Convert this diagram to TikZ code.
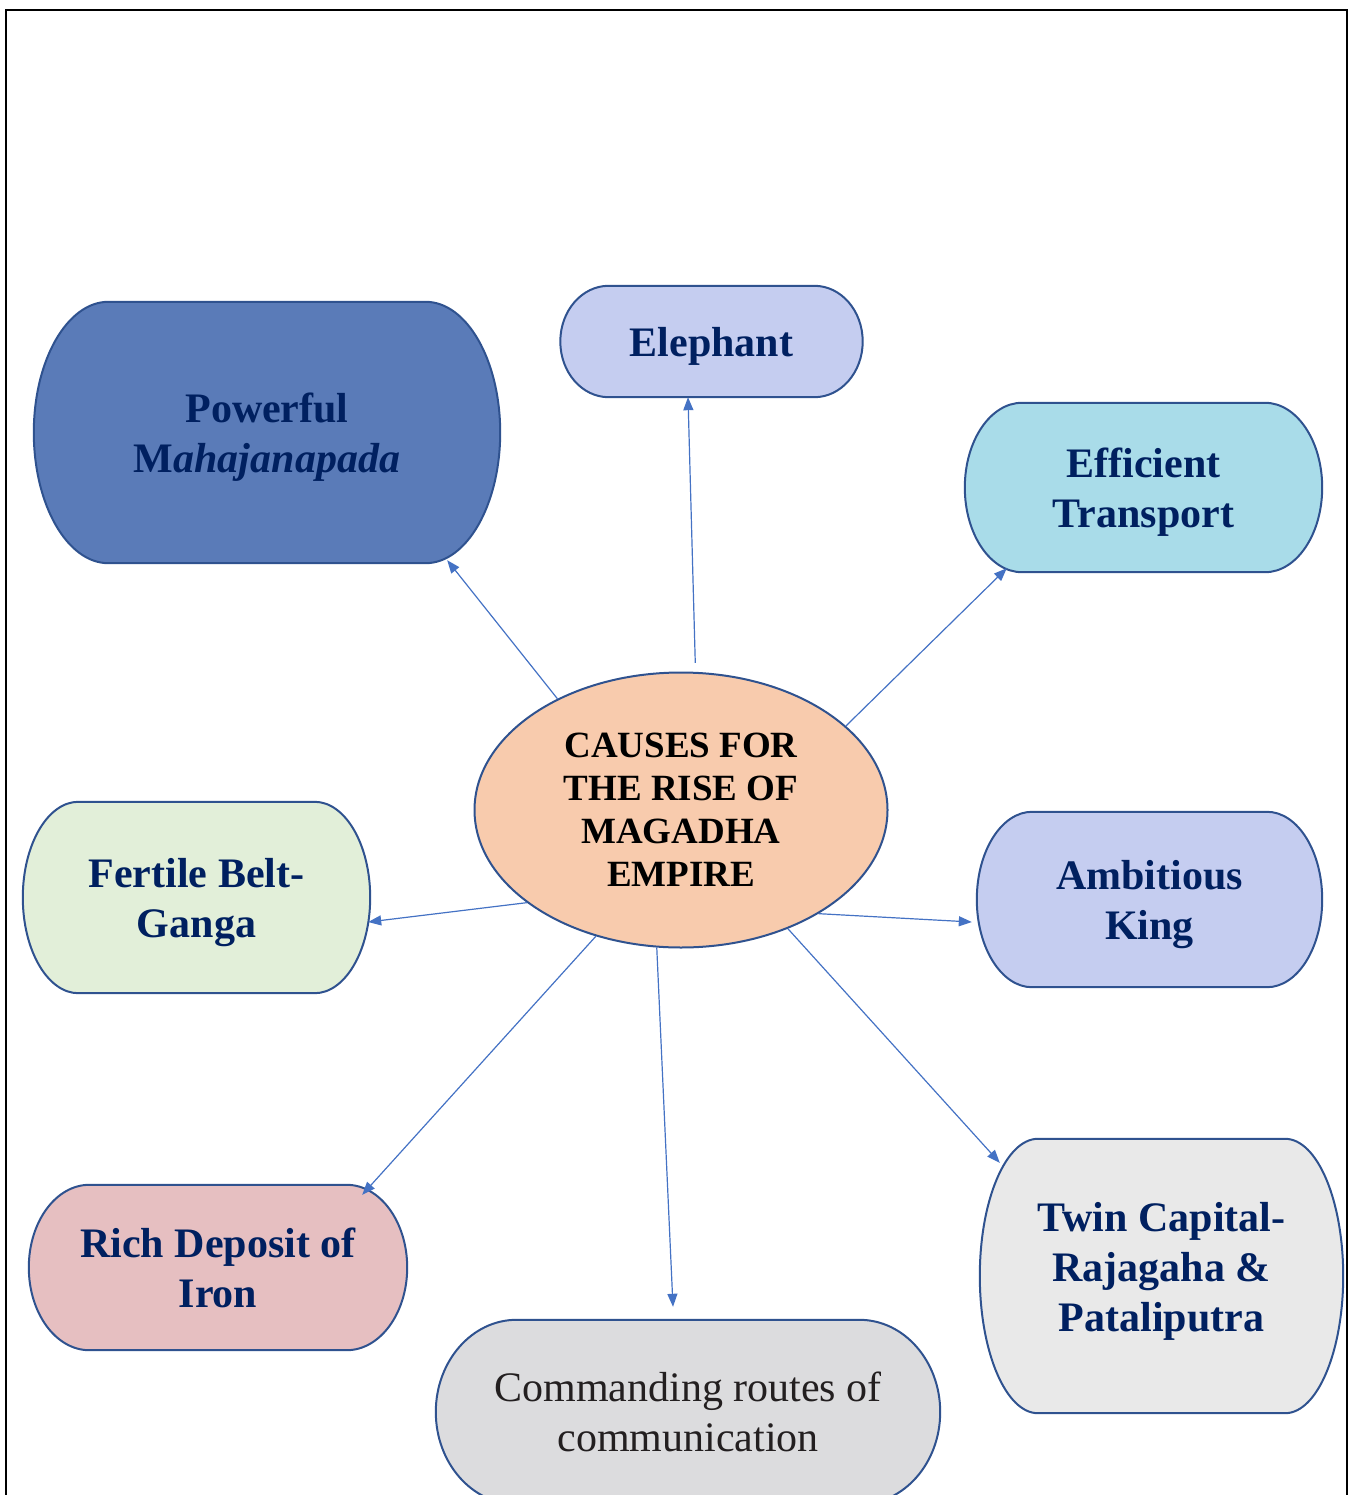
\documentclass[tikz,border=0pt]{standalone}
\usepackage{fontspec}
\setmainfont{Liberation Serif}
\usetikzlibrary{shapes.geometric, arrows.meta, calc, backgrounds}
\definecolor{navytext}{HTML}{002060}
\definecolor{shapeline}{HTML}{2F528F}
\definecolor{arrowblue}{HTML}{4472C4}
\definecolor{hubfill}{HTML}{F8CBAD}
\definecolor{denim}{HTML}{5A7BB8}
\definecolor{bouquet}{HTML}{C5CDF0}
\definecolor{droplets}{HTML}{A9DCE9}
\definecolor{fertile}{HTML}{E2EFD9}
\definecolor{rosemarble}{HTML}{E6BFC1}
\definecolor{marble}{HTML}{DCDCDE}
\definecolor{granite}{HTML}{E9E9E9}
\definecolor{marbletext}{HTML}{231F20}
\tikzset{
  cause/.style   = {rectangle, inner sep=0pt, align=center, text=navytext,
                    text depth=0pt, font=\fontsize{42}{50}\selectfont\bfseries},
  hubnode/.style = {ellipse, draw=shapeline, line width=2pt, fill=hubfill,
                    inner sep=0pt, minimum width=413pt, minimum height=275pt,
                    align=center, font=\fontsize{37}{43}\selectfont\bfseries},
  termline/.style = {draw=shapeline, line width=2pt},
  flow/.style    = {-{Triangle[length=13pt, width=10pt]}, draw=arrowblue,
                    line width=1.2pt},
}

\begin{document}
\begin{tikzpicture}[x=1pt, y=-1pt]
  \useasboundingbox (0,0) rectangle (1349,1495);
  \clip (0,0) rectangle (1349,1495);
  \draw[line width=2pt] (6,10) rectangle (1347,1530);

  \node[hubnode] (hub) at (681,810) {CAUSES FOR\\THE RISE OF\\MAGADHA\\EMPIRE};

  \node[cause, minimum width=466pt, minimum height=261pt] (pow) at (267,432.5)
    {Powerful\\M\textit{ahajanapada}};
  \node[cause, minimum width=302pt, minimum height=111pt] (ele) at (711.5,341.5)
    {Elephant};
  \node[cause, minimum width=357pt, minimum height=169pt] (eff) at (1143.5,487.5)
    {Efficient\\Transport};
  \node[cause, minimum width=347pt, minimum height=191pt] (fer) at (196.5,897.5)
    {Fertile Belt-\\Ganga};
  \node[cause, minimum width=345pt, minimum height=175pt] (amb) at (1149.5,899.5)
    {Ambitious\\King};
  \node[cause, minimum width=378pt, minimum height=165pt] (iron) at (218,1267.5)
    {Rich Deposit of\\Iron};
  \node[cause, minimum width=504pt, minimum height=184pt, text=marbletext,
        font=\fontsize{42}{50}\selectfont] (com) at (688,1412)
    {Commanding routes of\\communication};
  \node[cause, minimum width=363pt, minimum height=274pt, text depth=19pt]
    (twin) at (1161.5,1276) {Twin Capital-\\Rajagaha \&\\Pataliputra};

  \begin{scope}[on background layer]
    \foreach \b/\c in {pow/denim, ele/bouquet, eff/droplets, fer/fertile,
                       amb/bouquet, iron/rosemarble, com/marble, twin/granite}
      \draw[termline, fill=\c]
        let \p1 = (\b.south west), \p2 = (\b.north east),
            \n1 = {0.16*(\x2-\x1)}, \n2 = {(\y2-\y1)/2} in
        (\x1+\n1,\y2) -- (\x2-\n1,\y2)
        arc[start angle=90, end angle=-90, x radius=\n1, y radius=\n2]
        -- (\x1+\n1,\y1)
        arc[start angle=270, end angle=90, x radius=\n1, y radius=\n2] -- cycle;
  \end{scope}

  \draw[flow] (hub.138) -- ([xshift=-53pt, yshift=3pt]pow.south east);
  \draw[flow, shorten <=9pt] (hub.84) -- ([xshift=-23.5pt]ele.south);
  \draw[flow] (hub.27) -- ([xshift=42pt, yshift=4pt]eff.south west);
  \draw[flow] (hub.211) -- ([xshift=-2pt, yshift=-24.5pt]fer.east);
  \draw[flow] (hub.323) -- ([xshift=-5pt, yshift=-22.5pt]amb.west);
  \draw[flow] (hub.236) -- ([xshift=-45pt, yshift=-10pt]iron.north east);
  \draw[flow] (hub.260) -- ([xshift=-15pt, yshift=13pt]com.north);
  \draw[flow] (hub.312) -- ([xshift=20pt, yshift=-24pt]twin.north west);
\end{tikzpicture}
\end{document}
